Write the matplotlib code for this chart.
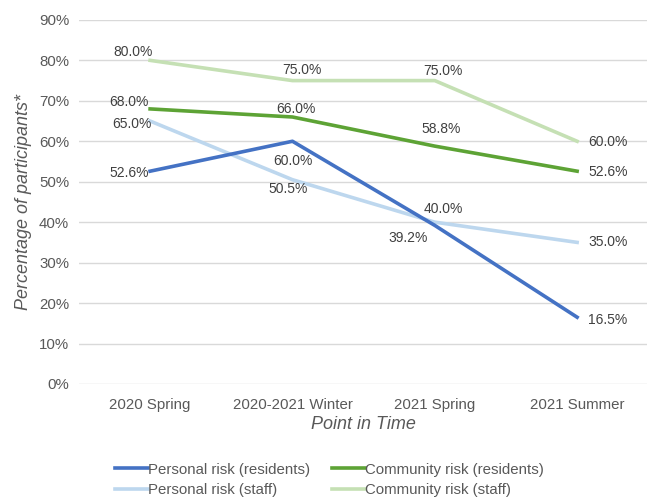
import matplotlib
matplotlib.use("Agg")
import matplotlib.pyplot as plt
import matplotlib.ticker as mtick

plt.rcParams['font.family'] = ['Liberation Sans', 'DejaVu Sans']

# survey waves and share of participants reporting risk (%)
periods = ['2020 Spring', '2020-2021 Winter', '2021 Spring', '2021 Summer']
personal_residents = [52.6, 60.0, 39.2, 16.5]
community_residents = [68.0, 66.0, 58.8, 52.6]
personal_staff = [65.0, 50.5, 40.0, 35.0]
community_staff = [80.0, 75.0, 75.0, 60.0]

fig = plt.figure(figsize=(6.47, 4.98), dpi=100)
ax = fig.add_axes([0.122, 0.229, 0.880, 0.731])

x = range(len(periods))
lw = 2.6
l1, = ax.plot(x, personal_residents, color='#4472C4', lw=lw, label='Personal risk (residents)', zorder=5)
l2, = ax.plot(x, community_residents, color='#5DA335', lw=lw, label='Community risk (residents)', zorder=4)
l3, = ax.plot(x, personal_staff, color='#BDD7EE', lw=lw, label='Personal risk (staff)', zorder=3)
l4, = ax.plot(x, community_staff, color='#C5E0B4', lw=lw, label='Community risk (staff)', zorder=2)

# label offsets in pixels (dx, dy) for each point
offsets = {
    'pr': [(-21, -2), (0, -20), (-27, -13), (31, -3)],
    'cr': [(-21, 7), (3, 8), (6, 17), (31, -1)],
    'ps': [(-18, -3), (-4, -9), (9, 13), (31, 0)],
    'cs': [(-17, 8), (9, 11), (8, 10), (31, -1)],
}
series = [('pr', personal_residents), ('cr', community_residents),
          ('ps', personal_staff), ('cs', community_staff)]
for key, vals in series:
    for i, v in enumerate(vals):
        dx, dy = offsets[key][i]
        ax.annotate(f'{v:.1f}%', (i, v), xytext=(dx, dy), textcoords='offset pixels',
                    ha='center', va='center', fontsize=10, color='#404040', zorder=6)

ax.set_xlim(-0.5, 3.5)
ax.set_ylim(0, 90)
ax.set_yticks(range(0, 91, 10))
ax.yaxis.set_major_formatter(mtick.FuncFormatter(lambda v, p: f'{v:.0f}%'))
ax.set_xticks(list(x))
ax.set_xticklabels(periods)
ax.tick_params(axis='both', length=0, labelsize=10.8, colors='#595959', pad=7)
ax.tick_params(axis='x', pad=10)
ax.grid(axis='y', color='#D9D9D9', lw=1)
ax.set_axisbelow(True)
for s in ax.spines.values():
    s.set_visible(False)

ax.set_ylabel('Percentage of participants*', fontsize=13, style='italic', color='#595959', labelpad=5)
ax.set_xlabel('Point in Time', fontsize=13, style='italic', color='#595959', labelpad=3)

fig.legend(handles=[l1, l3, l2, l4], ncol=2, loc='upper left', bbox_to_anchor=(0.168, 0.083),
           frameon=False, fontsize=10.8, handlelength=2.2, handletextpad=0.05,
           columnspacing=1.4, labelspacing=0.45, labelcolor='#595959', borderaxespad=0)

fig.savefig('out.png', dpi=100)
